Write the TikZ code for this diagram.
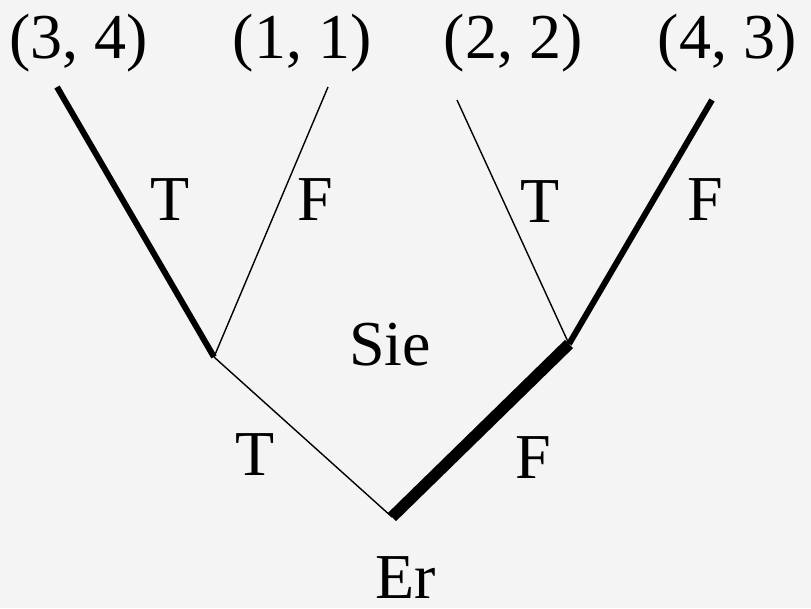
\documentclass[tikz,border=0pt]{standalone}
\usepackage{fontspec}
\setmainfont{Liberation Serif}
\usetikzlibrary{positioning}
\definecolor{bgcol}{HTML}{F4F4F4}
\tikzset{
  lbl/.style={font=\fontsize{64}{64}\selectfont, inner sep=0pt, anchor=base},
  play/.style={draw=black, line width=1.4pt},
  best/.style={draw=black, line width=6pt},
  bestroot/.style={draw=black, line width=11.5pt},
}
\begin{document}
\begin{tikzpicture}[x=1pt,y=-1pt]
  \fill[bgcol] (0,0) rectangle (811,608);
  \useasboundingbox (0,0) rectangle (811,608);

  % decision points
  \coordinate (er)   at (392,517);
  \coordinate (sieT) at (214,357);
  \coordinate (sieF) at (569,344);
  \coordinate (l34)  at (57,87);
  \coordinate (l11)  at (328,87);
  \coordinate (l22)  at (457,100);
  \coordinate (l43)  at (712,100);

  % payoffs
  \node[lbl] (p34) at (79,58)  {(3, 4)};
  \node[lbl] (p11) at (302,58) {(1, 1)};
  \node[lbl] (p22) at (513,58) {(2, 2)};
  \node[lbl] (p43) at (727,58) {(4, 3)};

  % branches
  \draw[play]     (er) -- (sieT);
  \draw[bestroot] (er) -- (sieF);
  \draw[best]     (sieT) -- (l34);
  \draw[play]     (sieT) -- (l11);
  \draw[play]     (sieF) -- (l22);
  \draw[best]     (sieF) -- (l43);

  % labels
  \node[lbl] (tl)  at (170,220) {T};
  \node[lbl] (fl)  at (315,220) {F};
  \node[lbl] (tr)  at (540,222) {T};
  \node[lbl] (fr)  at (705,220) {F};
  \node[lbl] (sie) at (390,365) {Sie};
  \node[lbl] (te)  at (255,475) {T};
  \node[lbl] (fe)  at (533,478) {F};
  \node[lbl] (er0) at (406,598) {Er};
\end{tikzpicture}
\end{document}
